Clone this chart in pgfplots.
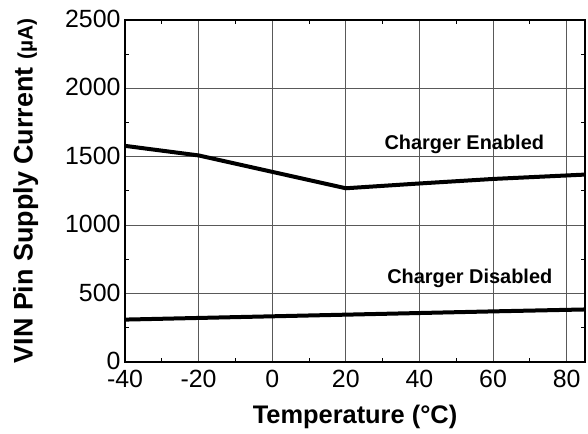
\documentclass[border=0pt]{standalone}
\usepackage{fontspec}
\setmainfont{Liberation Sans}
\usepackage{pgfplots}
\pgfplotsset{compat=1.18}

\begin{document}
\begin{tikzpicture}
\path[use as bounding box] (0,0) rectangle (588bp,434bp);
\begin{axis}[
    at={(125bp,72bp)}, anchor=south west,
    width=460bp, height=342bp, scale only axis,
    xmin=-40, xmax=85, ymin=0, ymax=2500,
    xtick={-40,-20,...,80}, ytick={0,500,...,2500},
    minor xtick={-30,-10,...,70}, minor ytick={250,750,...,2250},
    /pgf/number format/assume math mode=true,
    /pgf/number format/1000 sep={},
    grid=major,
    major grid style={line width=1bp, black!65},
    axis line style={line width=2.2bp, black},
    tick style={black, line width=1bp},
    major tick length=0pt, minor tick length=4bp,
    tick align=inside,
    ticklabel style={font=\fontsize{25}{25}\selectfont},
    xticklabel style={yshift=-5bp},
    yticklabel style={xshift=-1bp, yshift=1bp},
    xlabel={\bfseries Temperature (°C)},
    ylabel={\bfseries VIN Pin Supply Current {\fontsize{21}{21}\selectfont (µA)}},
    xlabel style={at={(axis description cs:0.5,-0.161)}, anchor=center, font=\fontsize{25.5}{26}\selectfont},
    ylabel style={at={(axis description cs:-0.216,0.5)}, anchor=center, font=\fontsize{27}{27}\selectfont},
]
\addplot[black, line width=4bp] coordinates {
    (-40,1580) (-20,1510) (0,1390) (20,1270) (40,1305) (60,1338) (85,1370)
};
\addplot[black, line width=4bp] coordinates {
    (-40,310) (-20,322) (0,334) (20,346) (40,358) (60,370) (85,384)
};
\node[font=\bfseries\fontsize{20}{20}\selectfont, anchor=base] at (axis cs:52.2,1555) {Charger Enabled};
\node[font=\bfseries\fontsize{20}{20}\selectfont, anchor=base] at (axis cs:53.7,574) {Charger Disabled};
\end{axis}
\end{tikzpicture}
\end{document}
